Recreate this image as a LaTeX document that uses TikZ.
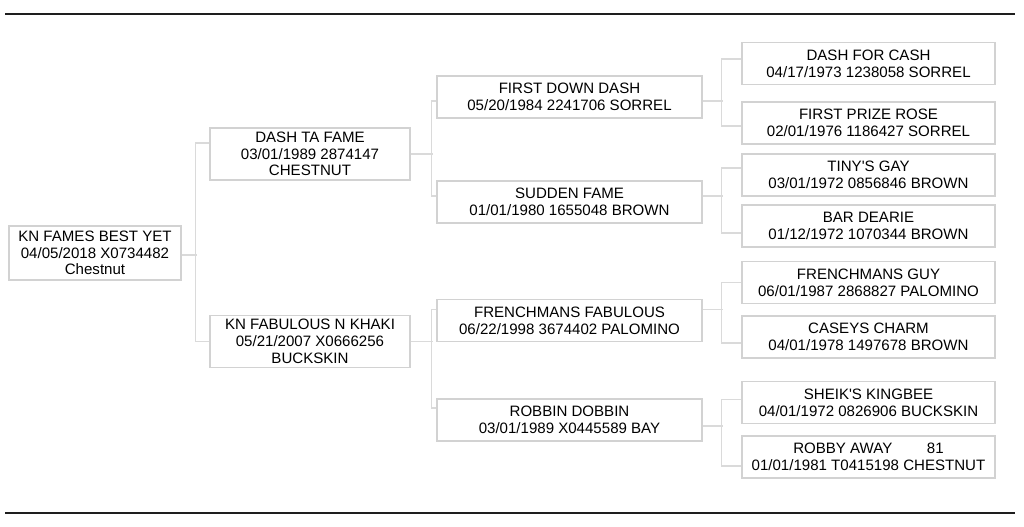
\documentclass[tikz,border=0pt]{standalone}
\usepackage{fontspec}
\setmainfont{Liberation Sans}
\usepackage{tikz}
\usetikzlibrary{positioning}
\definecolor{boxgray}{HTML}{D2D2D2}
\definecolor{linkgray}{HTML}{DADADA}
\definecolor{rulegray}{HTML}{1E1E1E}
\tikzset{
    horse/.style={draw=boxgray, line width=1.2pt, align=center, inner sep=0pt,
        font=\fontsize{11.3}{12.6}\selectfont},
    foal/.style={horse, minimum width=129pt, minimum height=40.5pt},
    parent/.style={horse, minimum width=150pt, minimum height=39pt},
    grandparent/.style={horse, minimum width=198.75pt, minimum height=31.5pt},
    greatgp/.style={horse, minimum width=189.75pt, minimum height=31.5pt},
    link/.style={draw=linkgray, line width=0.8pt},
    rule/.style={draw=rulegray, line width=1.6pt}
}
\begin{document}
\begin{tikzpicture}[x=0.75pt, y=-0.75pt]
    \useasboundingbox (0,0) rectangle (1024,526);
    \draw[rule] (5,14) -- (1015,14);
    \draw[rule] (5,513) -- (1015,513);

    \node[foal] at (95,253) (knfames) {KN FAMES BEST YET\\04/05/2018 X0734482\\Chestnut};

    \node[parent] at (310,154) (dashtafame) {DASH TA FAME\\03/01/1989 2874147\\CHESTNUT};
    \node[parent] at (310,341.5) (knfabulous) {KN FABULOUS N KHAKI\\05/21/2007 X0666256\\BUCKSKIN};

    \node[grandparent] at (569.5,97) (firstdowndash) {FIRST DOWN DASH\\05/20/1984 2241706 SORREL};
    \node[grandparent] at (569.5,202) (suddenfame) {SUDDEN FAME\\01/01/1980 1655048 BROWN};
    \node[grandparent] at (569.5,320.5) (frenchmansfab) {FRENCHMANS FABULOUS\\06/22/1998 3674402 PALOMINO};
    \node[grandparent] at (569.5,420) (robbindobbin) {ROBBIN DOBBIN\\03/01/1989 X0445589 BAY};

    \node[greatgp] at (868.5,63.5) (dashforcash) {DASH FOR CASH\\04/17/1973 1238058 SORREL};
    \node[greatgp] at (868.5,123) (firstprizerose) {FIRST PRIZE ROSE\\02/01/1976 1186427 SORREL};
    \node[greatgp] at (868.5,175) (tinysgay) {TINY\textquotesingle S GAY\\03/01/1972 0856846 BROWN};
    \node[greatgp] at (868.5,226) (bardearie) {BAR DEARIE\\01/12/1972 1070344 BROWN};
    \node[greatgp] at (868.5,282.5) (frenchmansguy) {FRENCHMANS GUY\\06/01/1987 2868827 PALOMINO};
    \node[greatgp] at (868.5,337) (caseyscharm) {CASEYS CHARM\\04/01/1978 1497678 BROWN};
    \node[greatgp] at (868.5,402.5) (sheikskingbee) {SHEIK\textquotesingle S KINGBEE\\04/01/1972 0826906 BUCKSKIN};
    \node[greatgp] at (868.5,457) (robbyaway) {ROBBY AWAY\hspace{2.3em}81\\01/01/1981 T0415198 CHESTNUT};

    % sire and dam lines
    \draw[link] ([yshift=-1.5pt]knfames.east) -- ++(15,0);
    \draw[link] ([yshift=8.25pt]dashtafame.west) -- ++(-14,0) |- (knfabulous.west);

    \draw[link] (dashtafame.east) -- ++(22,0);
    \draw[link] ([yshift=-3pt]firstdowndash.west) -- ++(-5,0) |- ([yshift=4.5pt]suddenfame.west);
    \draw[link] (knfabulous.east) -- ++(22,0);
    \draw[link] ([yshift=8.6pt]frenchmansfab.west) -- ++(-5,0) |- ([yshift=9pt]robbindobbin.west);

    \draw[link] ([yshift=-3pt]firstdowndash.east) -- ++(20,0);
    \draw[link] ([yshift=3.4pt]dashforcash.west) -- ++(-20,0) |- ([yshift=-2.25pt]firstprizerose.west);
    \draw[link] ([yshift=4.5pt]suddenfame.east) -- ++(20,0);
    \draw[link] ([yshift=5.25pt]tinysgay.west) -- ++(-20,0) |- ([yshift=-5.25pt]bardearie.west);
    \draw[link] ([yshift=8.6pt]frenchmansfab.east) -- ++(20,0);
    \draw[link] (frenchmansguy.west) -- ++(-20,0) |- ([yshift=-4.5pt]caseyscharm.west);
    \draw[link] ([yshift=-4.5pt]robbindobbin.east) -- ++(20,0);
    \draw[link] ([yshift=2pt]sheikskingbee.west) -- ++(-20,0) |- ([yshift=-6.75pt]robbyaway.west);
\end{tikzpicture}
\end{document}
